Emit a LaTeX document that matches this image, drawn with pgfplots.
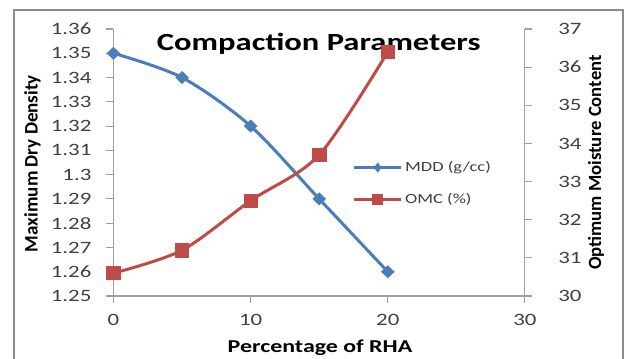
\documentclass[border=0pt]{standalone}
\usepackage{fontspec}
\setmainfont{Carlito}[FakeStretch=1.32]
\newfontfamily\narrowfont{Carlito}
\usepackage{pgfplots}
\pgfplotsset{compat=1.18}

\definecolor{mddblue}{RGB}{74,126,187}
\definecolor{omcred}{RGB}{190,75,72}
\definecolor{axisgray}{RGB}{160,160,160}
\definecolor{framegray}{RGB}{140,140,140}
\definecolor{labelgray}{RGB}{64,64,64}

\pgfplotsset{
  common/.style={
    at={(85.1pt,46.5pt)}, anchor=south west,
    scale only axis, width=308.6pt, height=200.25pt,
    xmin=0, xmax=30,
    /pgf/number format/assume math mode=true,
    tick align=outside,
    major tick length=5.5pt,
    tick style={axisgray, line width=0.8pt},
    axis line style={axisgray, line width=0.8pt},
    ticklabel style={font=\fontsize{13}{15}\selectfont, text=labelgray},
    every axis plot/.append style={line width=2.25pt},
  }
}

\begin{document}
\begin{tikzpicture}
\useasboundingbox (0,0) rectangle (468pt,268.5pt);
\draw[framegray, line width=1.2pt] (10.5pt,-5pt) rectangle (467.2pt,261pt);

% left axis: maximum dry density
\begin{axis}[common,
  axis y line*=left, axis x line*=bottom,
  ymin=1.25, ymax=1.36,
  ytick={1.25,1.26,1.27,1.28,1.29,1.30,1.31,1.32,1.33,1.34,1.35,1.36},
  xtick={0,10,20,30},
  yticklabel style={/pgf/number format/fixed, /pgf/number format/precision=2,
    xshift=-7.5pt},
  xticklabel style={yshift=-5pt},
  xlabel={Percentage of RHA},
  xlabel style={at={(axis description cs:0.502,-0.195)}, anchor=center,
    font=\bfseries\fontsize{13.6}{15}\selectfont},
  ylabel={Maximum Dry Density},
  ylabel style={at={(axis description cs:-0.197,0.496)}, anchor=center,
    font=\narrowfont\bfseries\fontsize{14.3}{16}\selectfont},
  title={Compaction Parameters},
  title style={at={(axis description cs:0.499,0.951)}, anchor=center, yshift=-7.5pt,
    font=\bfseries\fontsize{18.5}{21}\selectfont},
]
\addplot[mddblue, smooth, tension=0.5, mark=diamond*,
  mark options={xscale=1.4, line width=0.5pt}, mark size=4.5pt]
  coordinates {(0,1.35) (5,1.34) (10,1.32) (15,1.29) (20,1.26)};
\end{axis}

% right axis: optimum moisture content
\begin{axis}[common,
  axis y line*=right, axis x line=none,
  ymin=30, ymax=37,
  ytick={30,31,32,33,34,35,36,37},
  yticklabel style={xshift=16pt},
  ylabel={Optimum Moisture Content},
  ylabel style={at={(axis description cs:1.1725,0.50)}, anchor=center,
    font=\narrowfont\bfseries\fontsize{14}{16}\selectfont},
  legend style={draw=none, fill=none, at={(0.572,0.525)}, anchor=north west,
    font=\fontsize{10.5}{12}\selectfont, text=labelgray,
    row sep=11pt, /tikz/every even column/.append style={column sep=2pt}},
  legend cell align=left,
  legend image code/.code={
    \draw[#1] (0pt,0pt) -- (35pt,0pt);
    \draw[#1] plot coordinates {(17.5pt,0pt)};
  },
]
\addlegendimage{mddblue, line width=2pt, mark=diamond*, mark size=2.2pt}
\addlegendentry{MDD (g/cc)}
\addlegendimage{omcred, line width=2pt, mark=square*, mark size=3.2pt}
\addlegendentry{OMC (\%)}
\addplot[omcred, smooth, tension=0.5, mark=square*,
  mark options={line width=0.5pt}, mark size=5pt, forget plot]
  coordinates {(0,30.6) (5,31.2) (10,32.5) (15,33.7) (20,36.4)};
\end{axis}
\end{tikzpicture}
\end{document}
